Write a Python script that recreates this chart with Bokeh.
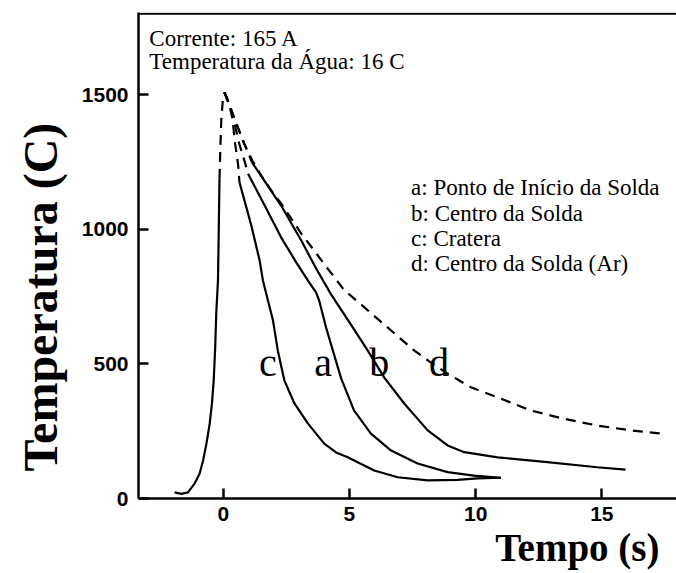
import math
from bokeh.plotting import figure
from bokeh.models import Label, Span, FixedTicker, Title
from bokeh.embed import file_html
from bokeh.resources import INLINE

# ---- data (time in s, temperature in C) ----
heat_x = [-1.93, -1.66, -1.40, -1.14, -0.94, -0.80, -0.67, -0.54, -0.45, -0.38, -0.32, -0.28, -0.21, -0.18, -0.15]
heat_y = [23, 17, 23, 55, 92, 141, 203, 277, 352, 438, 562, 686, 810, 995, 1187]
heat_dash_x = [-0.15, -0.12, -0.08, -0.02, 0.05]
heat_dash_y = [1187, 1292, 1404, 1478, 1508]

c_dash_x = [0.05, 0.24, 0.36, 0.47, 0.59, 0.64]
c_dash_y = [1508, 1463, 1411, 1318, 1237, 1175]
c_x = [0.64, 1.11, 1.44, 1.57, 1.77, 1.97, 2.16, 2.42, 2.82, 3.35, 4.00, 4.47, 4.93, 5.98, 6.91, 8.10, 9.28, 10.08, 11.00]
c_y = [1175, 1014, 884, 810, 735, 661, 550, 438, 353, 279, 204, 171, 153, 104, 79, 67, 69, 75, 77]

a_dash_x = [0.05, 0.24, 0.40, 0.63, 0.87, 0.98]
a_dash_y = [1508, 1463, 1411, 1318, 1244, 1206]
a_x = [0.98, 1.62, 2.29, 2.89, 3.35, 3.68, 3.80, 4.07, 4.34, 4.67, 5.18, 5.85, 6.65, 7.70, 8.89, 9.93, 11.00]
a_y = [1206, 1092, 970, 877, 810, 765, 735, 636, 550, 446, 327, 241, 178, 130, 98, 85, 77]

b_dash_x = [0.05, 0.24, 0.44, 0.83, 1.14]
b_dash_y = [1508, 1463, 1411, 1318, 1248]
b_x = [1.14, 1.70, 2.29, 3.09, 3.68, 4.27, 5.06, 5.72, 6.38, 7.17, 8.10, 8.89, 9.55, 10.87, 12.84, 14.82, 15.94]
b_y = [1248, 1170, 1088, 958, 854, 758, 646, 550, 449, 353, 253, 197, 172, 153, 135, 116, 107]

d_x = [0.05, 0.24, 0.44, 0.83, 1.15, 1.50, 1.90, 2.29, 2.69, 3.09, 3.60, 4.07, 4.80, 5.59, 6.65, 7.56, 8.23, 8.89, 9.81, 10.87, 12.18, 13.50, 14.82, 16.14, 17.46]
d_y = [1508, 1463, 1411, 1318, 1255, 1200, 1144, 1096, 1040, 984, 921, 862, 773, 710, 624, 550, 505, 464, 413, 376, 327, 296, 271, 253, 240]

x_ticks = [0, 5, 10, 15]
y_ticks = [0, 500, 1000, 1500]

x_title = "Tempo (s)"
y_title = "Temperatura (C)"
info_lines = ["Corrente: 165 A", "Temperatura da Água: 16 C"]
legend_lines = ["a: Ponto de Início da Solda", "b: Centro da Solda", "c: Cratera", "d: Centro da Solda (Ar)"]
curve_letters = ["c", "a", "b", "d"]
curve_letter_x = [1.42, 3.60, 5.78, 8.15]

SERIF = "Liberation Serif"
SANS = "Liberation Sans"

p = figure(width=676, height=571, x_range=(-3.36, 17.96), y_range=(0, 1805),
           output_backend="svg", toolbar_location=None,
           min_border_left=137, min_border_right=0, min_border_top=12, min_border_bottom=73)
p.outline_line_color = None
p.xgrid.visible = False
p.ygrid.visible = False
p.background_fill_color = "white"
p.border_fill_color = "white"

for ax, ticks in ((p.xaxis, x_ticks), (p.yaxis, y_ticks)):
    ax.ticker = FixedTicker(ticks=ticks)
    ax.major_tick_in = 10
    ax.major_tick_out = 0
    ax.minor_tick_in = 0
    ax.minor_tick_out = 0
    ax.axis_line_width = 2.5
    ax.major_tick_line_width = 2.5
    ax.axis_line_color = "black"
    ax.major_tick_line_color = "black"
    ax.major_label_text_font = SANS
    ax.major_label_text_font_style = "bold"
    ax.major_label_text_font_size = "21px"
    ax.major_label_text_color = "black"
p.xaxis.major_label_standoff = 8
p.yaxis.major_label_standoff = 10

# axis titles as side titles (so they can be shifted like in the original)
p.add_layout(Title(text=x_title, align="right", offset=17, standoff=0,
                   text_font=SERIF, text_font_style="bold", text_font_size="39px",
                   text_color="black"), "below")
p.add_layout(Title(text=y_title, align="left", offset=27, standoff=23,
                   text_font=SERIF, text_font_style="bold", text_font_size="48px",
                   text_color="black"), "left")

p.add_layout(Span(location=1800, dimension="width", line_color="black", line_width=2))

LW = 2.2
DASH = "10 7"
p.line(heat_x, heat_y, line_color="black", line_width=LW)
p.line(heat_dash_x, heat_dash_y, line_color="black", line_width=LW, line_dash=DASH)
for dx, dy, sx, sy in ((c_dash_x, c_dash_y, c_x, c_y), (a_dash_x, a_dash_y, a_x, a_y), (b_dash_x, b_dash_y, b_x, b_y)):
    p.line(dx, dy, line_color="black", line_width=LW, line_dash=DASH)
    p.line(sx, sy, line_color="black", line_width=LW)
p.line(d_x, d_y, line_color="black", line_width=LW, line_dash=DASH)

for txt, yy in zip(info_lines, [1708, 1623]):
    p.add_layout(Label(x=-2.93, y=yy, text=txt, text_font=SERIF, text_font_size="23px",
                       text_color="black", text_baseline="alphabetic"))
for txt, yy in zip(legend_lines, [1155, 1058, 966, 873]):
    p.add_layout(Label(x=7.44, y=yy, text=txt, text_font=SERIF, text_font_size="23px",
                       text_color="black", text_baseline="alphabetic"))
for txt, xx in zip(curve_letters, curve_letter_x):
    p.add_layout(Label(x=xx, y=505, text=txt, text_font=SERIF, text_font_size="40px",
                       text_color="black", text_baseline="alphabetic"))

open("out.html", "w").write(file_html(p, INLINE))
